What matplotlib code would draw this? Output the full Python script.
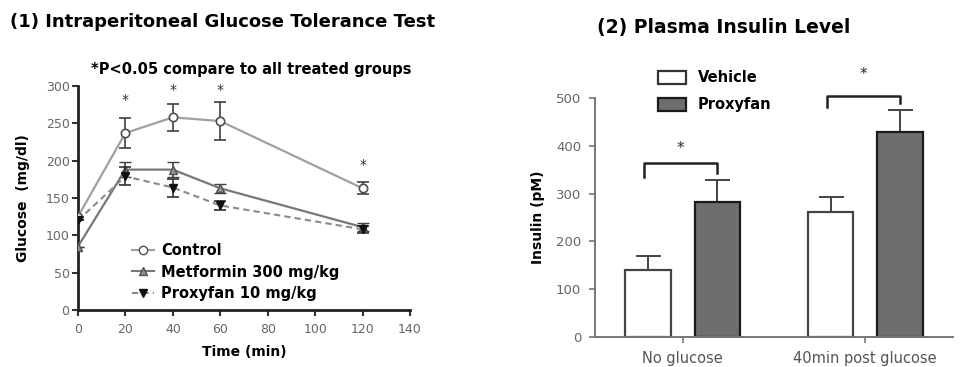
import matplotlib
matplotlib.use("Agg")
import matplotlib.pyplot as plt
from matplotlib.patches import Patch
from matplotlib.lines import Line2D

plt.rcParams['font.family'] = ['DejaVu Sans']

# ---- Panel 1: intraperitoneal glucose tolerance test ----
time_min = [0, 20, 40, 60, 120]
control = [125, 237, 258, 253, 163]
control_err = [0, 20, 18, 25, 8]
metformin = [85, 188, 188, 163, 111]
metformin_err = [0, 10, 10, 6, 5]
proxyfan = [120, 179, 164, 140, 108]
proxyfan_err = [0, 12, 12, 6, 5]
star_times = [20, 40, 60, 120]
star_levels = [281, 295, 295, 194]

# ---- Panel 2: plasma insulin level ----
conditions = ["No glucose", "40min post glucose"]
vehicle_insulin = [140, 262]
vehicle_err = [30, 30]
proxyfan_insulin = [283, 430]
proxyfan_insulin_err = [45, 45]
bracket_tops = [364, 504]
bracket_legs = [335, 482]
bracket_stars = [395, 550]

fig = plt.figure(figsize=(9.72, 3.67), dpi=100)

# ---------------- left panel ----------------
ax1 = fig.add_axes([0.0802, 0.1553, 0.3416, 0.6104])
ax1.errorbar(time_min, control, yerr=control_err, color='#a0a0a0', lw=1.6,
             marker='o', ms=6, mfc='white', mec='#505050', mew=1.2,
             ecolor='#404040', elinewidth=1.2, capsize=4, capthick=1.2, zorder=3)
ax1.errorbar(time_min, metformin, yerr=metformin_err, color='#777777', lw=1.6,
             marker='^', ms=6, mfc='#909090', mec='#505050', mew=1.0,
             ecolor='#404040', elinewidth=1.2, capsize=4, capthick=1.2, zorder=3)
ax1.errorbar(time_min, proxyfan, yerr=proxyfan_err, color='#8a8a8a', lw=1.5, ls=(0, (3, 2)),
             marker='v', ms=6, mfc='#111111', mec='#111111',
             ecolor='#303030', elinewidth=1.2, capsize=4, capthick=1.2, zorder=4)
for t, s in zip(star_times, star_levels):
    ax1.text(t, s, '*', ha='center', va='center', fontsize=10, color='#333333')

ax1.set_xlim(0, 140)
ax1.set_ylim(0, 300)
ax1.set_xticks(range(0, 141, 20))
ax1.set_yticks(range(0, 301, 50))
for side in ('top', 'right'):
    ax1.spines[side].set_visible(False)
for side in ('left', 'bottom'):
    ax1.spines[side].set_linewidth(2.0)
    ax1.spines[side].set_color('#222222')
ax1.tick_params(direction='out', length=4, width=1.5, color='#333333',
                labelsize=9, labelcolor='#666666')
ax1.tick_params(axis='x', pad=5)
ax1.tick_params(axis='y', pad=2)
ax1.set_xlabel('Time (min)', fontsize=10, fontweight='bold', labelpad=7)
ax1.set_ylabel('Glucose  (mg/dl)', fontsize=10, fontweight='bold', labelpad=11)

h_ctrl = Line2D([], [], color='#a0a0a0', lw=1.5, marker='o', ms=6, mfc='white', mec='#505050')
h_met = Line2D([], [], color='#777777', lw=1.5, marker='^', ms=6, mfc='#909090', mec='#505050')
h_prx = Line2D([], [], color='#8a8a8a', lw=1.5, ls=(0, (3, 2)), marker='v', ms=6,
               mfc='#111111', mec='#111111')
ax1.legend([h_ctrl, h_met, h_prx],
           ['Control', 'Metformin 300 mg/kg', 'Proxyfan 10 mg/kg'],
           loc='upper left', bbox_to_anchor=(0.145, 0.325), frameon=False,
           prop={'size': 10.5, 'weight': 'bold'}, handlelength=1.5,
           handletextpad=0.5, labelspacing=0.45, borderaxespad=0)

fig.text(0.01, 0.94, '(1) Intraperitoneal Glucose Tolerance Test', fontsize=13,
         fontweight='bold', va='center', ha='left')
fig.text(0.258, 0.81, '*P<0.05 compare to all treated groups', fontsize=10.5,
         fontweight='bold', va='center', ha='center')

# ---------------- right panel ----------------
ax2 = fig.add_axes([0.6121, 0.0817, 0.3683, 0.651])
xpos = [0, 1]
offset = 0.19
width = 0.25
veh_x = [x - offset for x in xpos]
prx_x = [x + offset for x in xpos]
ax2.bar(veh_x, vehicle_insulin, width=width, color='white', edgecolor='#444444', lw=1.6, zorder=2)
ax2.bar(prx_x, proxyfan_insulin, width=width, color='#6e6e6e', edgecolor='#1a1a1a', lw=1.6, zorder=2)
ax2.errorbar(veh_x, vehicle_insulin, yerr=[[0, 0], vehicle_err], fmt='none',
             ecolor='#444444', elinewidth=1.4, capsize=9, capthick=1.4, zorder=1)
ax2.errorbar(prx_x, proxyfan_insulin, yerr=[[0, 0], proxyfan_insulin_err], fmt='none',
             ecolor='#444444', elinewidth=1.4, capsize=9, capthick=1.4, zorder=1)

for vx, px, top, leg, st in zip(veh_x, prx_x, bracket_tops, bracket_legs, bracket_stars):
    left = vx - 0.02
    right = px + 0.0
    ax2.plot([left, left, right, right], [leg, top, top, leg + 8], color='#222222',
             lw=1.8, clip_on=False, solid_joinstyle='round')
    ax2.text((left + right) / 2, st, '*', ha='center', va='center', fontsize=11,
             color='#222222', clip_on=False)

ax2.set_xlim(-0.48, 1.48)
ax2.set_ylim(0, 500)
ax2.set_yticks(range(0, 501, 100))
ax2.set_xticks(xpos)
ax2.set_xticklabels(conditions, fontsize=10.5, color='#555555')
for side in ('top', 'right'):
    ax2.spines[side].set_visible(False)
for side in ('left', 'bottom'):
    ax2.spines[side].set_linewidth(1.4)
    ax2.spines[side].set_color('#777777')
ax2.tick_params(axis='y', direction='out', length=4, width=1.2, color='#777777',
                labelsize=9.5, labelcolor='#666666', pad=6)
ax2.tick_params(axis='x', direction='out', length=4, width=1.2, color='#777777', pad=6)
ax2.set_ylabel('Insulin (pM)', fontsize=10, fontweight='bold', labelpad=8)

ax2.legend([Patch(facecolor='white', edgecolor='#333333', lw=1.6),
            Patch(facecolor='#6e6e6e', edgecolor='#1a1a1a', lw=1.6)],
           ['Vehicle', 'Proxyfan'], loc='upper left', bbox_to_anchor=(0.16, 1.14),
           frameon=False, prop={'size': 10.5, 'weight': 'bold'}, handlelength=1.9,
           handleheight=1.0, handletextpad=0.8, labelspacing=0.8, borderaxespad=0)

fig.text(0.614, 0.925, '(2) Plasma Insulin Level', fontsize=13.5, fontweight='bold',
         va='center', ha='left')

fig.savefig('out.png', dpi=100)
